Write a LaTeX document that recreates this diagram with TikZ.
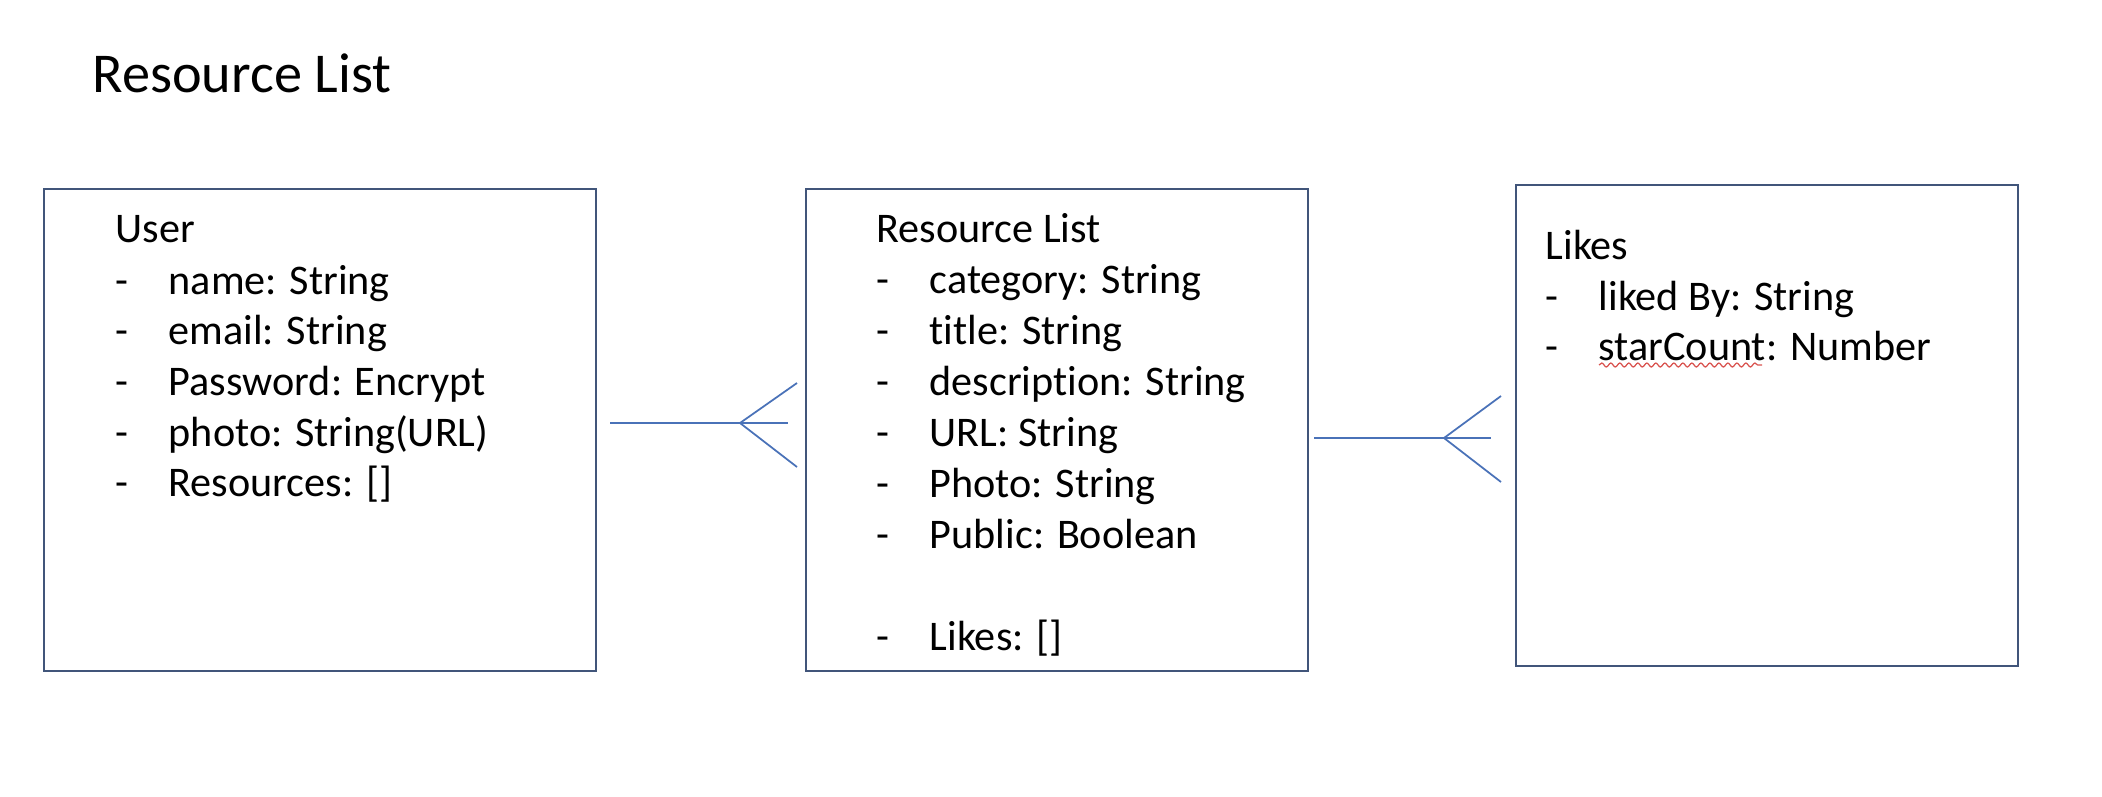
\documentclass[tikz,border=0pt]{standalone}
\usepackage{fontspec}
\setmainfont[Ligatures=NoCommon]{Carlito}
\usetikzlibrary{decorations.pathmorphing}
\definecolor{boxblue}{HTML}{41557A}
\definecolor{relblue}{HTML}{4A72B8}
\definecolor{spellred}{HTML}{D9534F}
\newcommand{\attr}[1]{\makebox[0.53cm][l]{-}#1}

\begin{document}
\begin{tikzpicture}[x=0.01cm, y=-0.01cm,
	box/.style={draw=boxblue, line width=0.6pt, rectangle, inner sep=0pt},
	txt/.style={anchor=base west, inner sep=0pt, font=\fontsize{12pt}{14pt}\selectfont},
	rel/.style={draw=relblue, line width=0.5pt}]
				\useasboundingbox (0, 0) rectangle (2102, 796);

				% Title
				\node[anchor=base west, inner sep=0pt, font=\fontsize{16pt}{19pt}\selectfont] (title) at (92, 92) {Resource List};

				% Boxes
				\node[box, minimum width=5.52cm, minimum height=4.82cm] (user) at (320, 430) {};
				\node[box, minimum width=5.02cm, minimum height=4.82cm] (list) at (1057, 430) {};
				\node[box, minimum width=5.02cm, minimum height=4.81cm] (likes) at (1767, 425.5) {};

				% User
				\node[txt] (u0) at (115, 242) {User};
				\node[txt] (u1) at (115, 294) {\attr{name: String}};
				\node[txt] (u2) at (115, 344) {\attr{email: String}};
				\node[txt] (u3) at (115, 395) {\attr{Password: Encrypt}};
				\node[txt] (u4) at (115, 446) {\attr{photo: String(URL)}};
				\node[txt] (u5) at (115, 496) {\attr{Resources: []}};

				% Resource List
				\node[txt] (r0) at (876, 242) {Resource List};
				\node[txt] (r1) at (876, 293) {\attr{category: String}};
				\node[txt] (r2) at (876, 344) {\attr{title: String}};
				\node[txt] (r3) at (876, 395) {\attr{description: String}};
				\node[txt] (r4) at (876, 446) {\attr{URL: String}};
				\node[txt] (r5) at (876, 497) {\attr{Photo: String}};
				\node[txt] (r6) at (876, 548) {\attr{Public: Boolean}};
				\node[txt] (r7) at (876, 650) {\attr{Likes: []}};

				% Likes
				\node[txt] (l0) at (1545, 259) {Likes};
				\node[txt] (l1) at (1545, 310) {\attr{liked By: String}};
				\node[txt] (l2) at (1545, 360) {\attr{starCount: Number}};
				\draw[spellred, line width=0.35pt, decorate, decoration={snake, segment length=0.09cm, amplitude=0.02cm}] (1599, 365) -- (1762, 365);

				% Edges
				\coordinate (ua) at (610, 423);
				\coordinate (ub) at (788, 423);
				\coordinate (uc) at (740, 423);
				\coordinate (ud) at (797, 383);
				\coordinate (ue) at (797, 467);
				\draw[rel] (ua) -- (ub);
				\draw[rel] (uc) -- (ud);
				\draw[rel] (uc) -- (ue);

				\coordinate (la) at (1314, 438);
				\coordinate (lb) at (1491, 438);
				\coordinate (lc) at (1444, 438);
				\coordinate (ld) at (1501, 396);
				\coordinate (le) at (1501, 482);
				\draw[rel] (la) -- (lb);
				\draw[rel] (lc) -- (ld);
				\draw[rel] (lc) -- (le);
			\end{tikzpicture}
\end{document}
